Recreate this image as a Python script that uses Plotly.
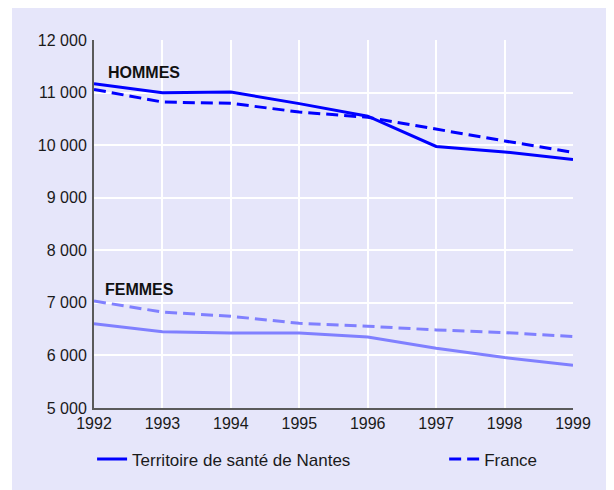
import plotly.graph_objects as go

annees = [1992, 1993, 1994, 1995, 1996, 1997, 1998, 1999]

hommes_nantes = [11170, 10995, 11010, 10790, 10550, 9975, 9870, 9725]
hommes_france = [11060, 10820, 10795, 10630, 10530, 10300, 10080, 9860]
femmes_nantes = [6605, 6450, 6425, 6425, 6350, 6135, 5960, 5815]
femmes_france = [7035, 6825, 6745, 6610, 6555, 6485, 6435, 6360]

y_ticks = [5000, 6000, 7000, 8000, 9000, 10000, 11000, 12000]
y_labels = ["5 000", "6 000", "7 000", "8 000", "9 000", "10 000", "11 000", "12 000"]

FONT = "Liberation Sans, Arial, sans-serif"
LAVANDE = "#E6E6FA"
BLEU = "#0000FF"
BLEU_CLAIR = "#8080FF"
DASH = "12px,6px"

fig = go.Figure()

# hommes
fig.add_trace(go.Scatter(
    x=annees, y=hommes_nantes, mode="lines",
    line=dict(color=BLEU, width=3),
    name="Territoire de santé de Nantes", legend="legend",
))
fig.add_trace(go.Scatter(
    x=annees, y=hommes_france, mode="lines",
    line=dict(color=BLEU, width=3, dash=DASH),
    name="France", legend="legend2",
))
# femmes
fig.add_trace(go.Scatter(
    x=annees, y=femmes_nantes, mode="lines",
    line=dict(color=BLEU_CLAIR, width=3),
    showlegend=False,
))
fig.add_trace(go.Scatter(
    x=annees, y=femmes_france, mode="lines",
    line=dict(color=BLEU_CLAIR, width=3, dash=DASH),
    showlegend=False,
))

fig.add_annotation(x=1992.17, y=11380, text="<b>HOMMES</b>", showarrow=False,
                   xanchor="left", yanchor="middle",
                   font=dict(family=FONT, size=16, color="#111111"))
fig.add_annotation(x=1992.13, y=7250, text="<b>FEMMES</b>", showarrow=False,
                   xanchor="left", yanchor="middle",
                   font=dict(family=FONT, size=16, color="#111111"))

# fond lavande avec un liseré blanc à gauche
fig.add_shape(type="rect", xref="paper", yref="paper",
              x0=-0.1712, x1=1.2, y0=-0.3, y1=1.2,
              fillcolor=LAVANDE, line=dict(width=0), layer="below")

fig.update_xaxes(
    range=[1992, 1999], tickvals=annees, ticktext=[str(a) for a in annees],
    showgrid=True, gridcolor="white", gridwidth=1.5,
    showline=True, linecolor="#5a5a5a", linewidth=2,
    ticks="", tickfont=dict(family=FONT, size=16, color="#1a1a1a"),
    zeroline=False, fixedrange=True,
)
fig.update_yaxes(
    range=[5000, 12000], tickvals=y_ticks, ticktext=y_labels,
    showgrid=True, gridcolor="white", gridwidth=1.5,
    showline=True, linecolor="#5a5a5a", linewidth=2,
    ticks="", ticklabelstandoff=2,
    tickfont=dict(family=FONT, size=16, color="#1a1a1a"),
    zeroline=False, fixedrange=True,
)

legend_style = dict(orientation="h", yanchor="middle", xanchor="left",
                    bgcolor="rgba(0,0,0,0)",
                    font=dict(family=FONT, size=17, color="#1a1a1a"))

fig.update_layout(
    width=606, height=482,
    margin=dict(l=86, r=41, t=32, b=79),
    paper_bgcolor="white",
    plot_bgcolor=LAVANDE,
    showlegend=True,
    legend=dict(x=-0.004, y=-0.14, **legend_style),
    legend2=dict(x=0.731, y=-0.14, **legend_style),
)

fig.write_html("out.html")
